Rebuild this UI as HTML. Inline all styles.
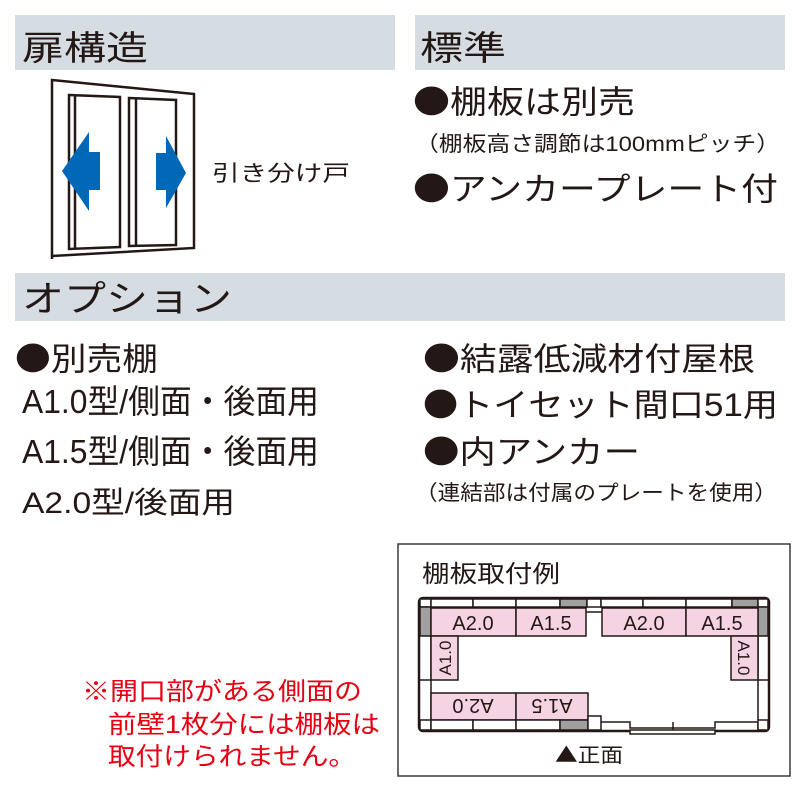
<!DOCTYPE html>
<html><head><meta charset="utf-8"><style>
html,body{margin:0;padding:0;background:#fff;}
svg{display:block;font-family:"Liberation Sans","Noto Sans CJK JP",sans-serif;}
.b{font-family:"Noto Sans CJK JP",sans-serif;}
</style></head><body>
<svg width="800" height="800" viewBox="0 0 800 800" xmlns="http://www.w3.org/2000/svg">
<rect x="15" y="15" width="380" height="55" fill="#d5dde3"/>
<rect x="415" y="15" width="370" height="55" fill="#d5dde3"/>
<rect x="15" y="273" width="770" height="48" fill="#d5dde3"/>
<g fill="#231815">
<text x="22" y="60" font-size="34" textLength="126" lengthAdjust="spacingAndGlyphs">扉構造</text>
<text x="420" y="60" font-size="34" textLength="86" lengthAdjust="spacingAndGlyphs">標準</text>
<text x="413" y="113" font-size="32" textLength="222" lengthAdjust="spacingAndGlyphs"><tspan class="b">●</tspan>棚板は別売</text>
<text x="415" y="151" font-size="21" textLength="365" lengthAdjust="spacingAndGlyphs">（棚板高さ調節は100mmピッチ）</text>
<text x="413" y="200" font-size="32" textLength="365" lengthAdjust="spacingAndGlyphs"><tspan class="b">●</tspan>アンカープレート付</text>
<text x="212" y="181" font-size="22" textLength="138" lengthAdjust="spacingAndGlyphs">引き分け戸</text>
<text x="22" y="311" font-size="36" textLength="210" lengthAdjust="spacingAndGlyphs">オプション</text>
<text x="15" y="370" font-size="32" textLength="143" lengthAdjust="spacingAndGlyphs"><tspan class="b">●</tspan>別売棚</text>
<text x="22" y="413" font-size="33" textLength="297" lengthAdjust="spacingAndGlyphs">A1.0型/側面・後面用</text>
<text x="22" y="463" font-size="33" textLength="297" lengthAdjust="spacingAndGlyphs">A1.5型/側面・後面用</text>
<text x="22" y="513" font-size="30" textLength="213" lengthAdjust="spacingAndGlyphs">A2.0型/後面用</text>
<text x="423" y="370" font-size="32" textLength="332" lengthAdjust="spacingAndGlyphs"><tspan class="b">●</tspan>結露低減材付屋根</text>
<text x="423" y="416" font-size="32" textLength="355" lengthAdjust="spacingAndGlyphs"><tspan class="b">●</tspan>トイセット間口51用</text>
<text x="423" y="463" font-size="32" textLength="217" lengthAdjust="spacingAndGlyphs"><tspan class="b">●</tspan>内アンカー</text>
<text x="415" y="500" font-size="21" textLength="362" lengthAdjust="spacingAndGlyphs">（連結部は付属のプレートを使用）</text>
<text x="422" y="582" font-size="24" textLength="138" lengthAdjust="spacingAndGlyphs">棚板取付例</text>
<text x="555" y="762" font-size="20" textLength="68" lengthAdjust="spacingAndGlyphs"><tspan class="b">▲</tspan>正面</text>
</g>
<g fill="#e60012" font-size="25">
<text x="82" y="700" textLength="280" lengthAdjust="spacingAndGlyphs">※開口部がある側面の</text>
<text x="108" y="733" textLength="272" lengthAdjust="spacingAndGlyphs">前壁1枚分には棚板は</text>
<text x="108" y="765" textLength="248" lengthAdjust="spacingAndGlyphs">取付けられません。</text>
</g>
<g fill="none" stroke="#231815" stroke-width="2.5">
<polyline points="52,259 52,80 194,94 194,248 52,256"/>
<polygon points="69,95 120,97 120,247 69,249"/>
<line x1="75" y1="96" x2="75" y2="249"/>
<polygon points="129,98 176,100 176,245 129,246"/>
<line x1="136" y1="99" x2="136" y2="246"/>
</g>
<polygon points="62,171 89,132 89,152 100,152 100,190 89,190 89,211" fill="#0068b7"/>
<polygon points="186,173 166,136 166,153 156,153 156,190 166,190 166,208" fill="#0068b7"/>
<rect x="398" y="544" width="392" height="232" fill="none" stroke="#3a3a3a" stroke-width="1.5"/>
<g stroke="#231815" stroke-width="1.5">
<rect x="419" y="598" width="350" height="133" rx="4" fill="#fff" stroke-width="2.5"/>
<rect x="420" y="599" width="11" height="8" fill="#fff"/>
<rect x="431" y="599" width="42" height="8" fill="#fff"/>
<rect x="473" y="599" width="43" height="8" fill="#fff"/>
<rect x="516" y="599" width="44" height="8" fill="#fff"/>
<rect x="560" y="599" width="27" height="8" fill="#a0a0a0"/>
<rect x="587" y="599" width="14" height="8" fill="#fff"/>
<rect x="601" y="599" width="42" height="8" fill="#fff"/>
<rect x="643" y="599" width="43" height="8" fill="#fff"/>
<rect x="686" y="599" width="46" height="8" fill="#fff"/>
<rect x="732" y="599" width="26" height="8" fill="#a0a0a0"/>
<rect x="758" y="599" width="10" height="8" fill="#fff"/>
<rect x="420" y="607" width="11" height="29" fill="#a0a0a0"/>
<rect x="758" y="607" width="10" height="29" fill="#a0a0a0"/>
<line x1="431" y1="636" x2="431" y2="720"/>
<line x1="758" y1="636" x2="758" y2="720"/>
<line x1="420" y1="680" x2="431" y2="680"/>
<line x1="758" y1="680" x2="768" y2="680"/>
<g fill="#f6d3e3">
<rect x="431" y="608" width="85" height="28"/>
<rect x="516" y="608" width="70" height="28"/>
<rect x="602" y="608" width="84" height="28"/>
<rect x="686" y="608" width="72" height="28"/>
<rect x="431" y="636" width="27" height="44"/>
<rect x="731" y="636" width="27" height="44"/>
<rect x="431" y="693" width="85" height="27"/>
<rect x="516" y="693" width="72" height="27"/>
</g>
<line x1="586" y1="612" x2="602" y2="612"/>
<rect x="420" y="720" width="11" height="10" fill="#fff"/>
<rect x="431" y="720" width="42" height="10" fill="#fff"/>
<rect x="473" y="720" width="43" height="10" fill="#fff"/>
<rect x="516" y="720" width="44" height="10" fill="#fff"/>
<rect x="560" y="720" width="28" height="10" fill="#a0a0a0"/>
<rect x="588" y="716" width="13" height="14" fill="#fff"/>
<polyline points="601,722 630,722 630,728 715,728 715,722 758,722 758,730" fill="none"/>
<line x1="673" y1="722" x2="673" y2="730"/>
<rect x="630" y="730" width="85" height="4" fill="#fff"/>
<rect x="758" y="720" width="10" height="10" fill="#fff"/>
</g>
<g fill="#231815" font-size="20">
<text x="473" y="630" text-anchor="middle">A2.0</text>
<text x="551" y="630" text-anchor="middle">A1.5</text>
<text x="644" y="630" text-anchor="middle">A2.0</text>
<text x="722" y="630" text-anchor="middle">A1.5</text>
<text transform="translate(451,658) rotate(-90)" text-anchor="middle" font-size="17">A1.0</text>
<text transform="translate(738,658) rotate(90)" text-anchor="middle" font-size="17">A1.0</text>
<text transform="translate(473,699) rotate(180)" text-anchor="middle">A2.0</text>
<text transform="translate(552,699) rotate(180)" text-anchor="middle">A1.5</text>
</g>
</svg>
</body></html>
